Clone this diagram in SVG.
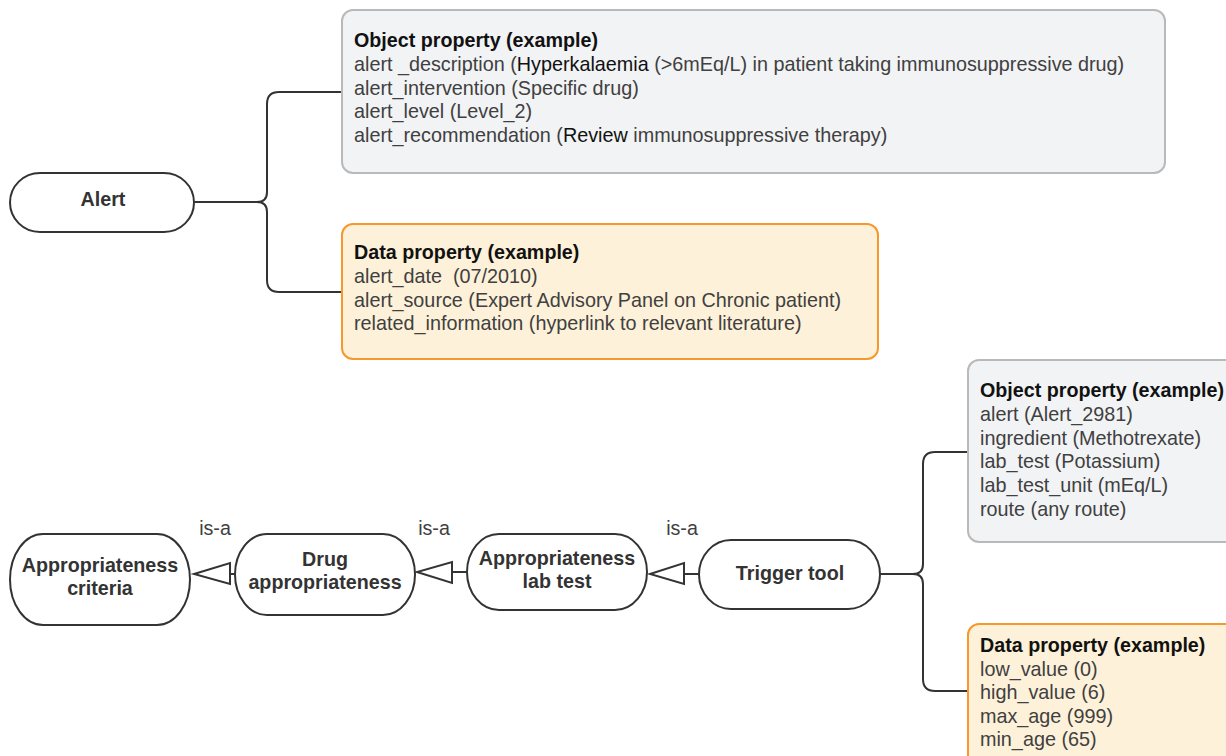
<svg xmlns="http://www.w3.org/2000/svg" width="1226" height="756" viewBox="0 0 1226 756">
  <style>
    text { font-family: "Liberation Sans", Arial, sans-serif; font-size: 19.7px; }
    .node { fill: #ffffff; stroke: #333333; stroke-width: 2; }
    .label { font-weight: bold; fill: #333333; text-anchor: middle; }
    .obj { fill: #f2f3f5; stroke: #b9b9b9; stroke-width: 2; }
    .dat { fill: #fef1d9; stroke: #f7982c; stroke-width: 2; }
    .head { font-weight: bold; fill: #111111; }
    .row { fill: #404040; font-size: 19.8px; }
    .dark { fill: #111111; }
    .wire { fill: none; stroke: #333333; stroke-width: 2; }
    .tri { fill: #ffffff; stroke: #333333; stroke-width: 2; stroke-linejoin: miter; }
    .isa { fill: #404040; text-anchor: middle; }
  </style>

  <!-- connectors: braces to property boxes and is-a generalisation arrows -->
  <g id="connectors">
    <path class="wire" d="M194,202 H257 Q267,202 267,192 V104 Q267,92 279,92 H342"/>
    <path class="wire" d="M257,202 Q267,202 267,212 V280 Q267,292 279,292 H342"/>
    <path class="wire" d="M880,574 H913 Q923,574 923,564 V464 Q923,452 935,452 H968"/>
    <path class="wire" d="M913,574 Q923,574 923,584 V679 Q923,691 935,691 H968"/>

    <path class="wire" d="M699,574 H684"/>
    <polygon class="tri" points="684,563 684,584 650,574"/>
    <path class="wire" d="M467,572 H452"/>
    <polygon class="tri" points="452,562 452,583 417,572"/>
    <path class="wire" d="M235,574 H230"/>
    <polygon class="tri" points="230,563 230,584 194,574"/>

    <text class="isa" x="215" y="535">is-a</text>
    <text class="isa" x="434" y="535">is-a</text>
    <text class="isa" x="682" y="535">is-a</text>
  </g>

  <g id="alert">
    <rect class="node" x="10" y="173" width="184" height="59" rx="30" ry="29.5"/>
    <text class="label" x="103" y="206">Alert</text>
  </g>

  <g id="alert-object-properties">
    <rect class="obj" x="342" y="10" width="823" height="163" rx="11"/>
    <text class="head" x="354" y="47">Object property (example)</text>
    <text class="row" x="354" y="71">alert _description (<tspan class="dark">Hyperkalaemia</tspan> (&gt;6mEq/L) in patient taking immunosuppressive drug)</text>
    <text class="row" x="354" y="94.5">alert_intervention (Specific drug)</text>
    <text class="row" x="354" y="118">alert_level (Level_2)</text>
    <text class="row" x="354" y="141.5">alert_recommendation (<tspan class="dark">Review</tspan> immunosuppressive therapy)</text>
  </g>

  <g id="alert-data-properties">
    <rect class="dat" x="342" y="224" width="536" height="135" rx="11"/>
    <text class="head" x="354" y="259">Data property (example)</text>
    <text class="row" x="354" y="283" xml:space="preserve">alert_date  (07/2010)</text>
    <text class="row" x="354" y="306.5">alert_source (Expert Advisory Panel on Chronic patient)</text>
    <text class="row" x="354" y="330">related_information (hyperlink to relevant literature)</text>
  </g>

  <g id="appropriateness-criteria">
    <rect class="node" x="10" y="534" width="180" height="91" rx="33" ry="45.5"/>
    <text class="label" x="100" y="572">Appropriateness</text>
    <text class="label" x="100" y="595">criteria</text>
  </g>

  <g id="drug-appropriateness">
    <rect class="node" x="235" y="534" width="180" height="81" rx="32" ry="40.5"/>
    <text class="label" x="325" y="566">Drug</text>
    <text class="label" x="325" y="589">appropriateness</text>
  </g>

  <g id="appropriateness-lab-test">
    <rect class="node" x="467" y="534" width="180" height="76" rx="32" ry="38"/>
    <text class="label" x="557" y="565">Appropriateness</text>
    <text class="label" x="557" y="588">lab test</text>
  </g>

  <g id="trigger-tool">
    <rect class="node" x="699" y="540" width="181" height="69" rx="32" ry="34.5"/>
    <text class="label" x="790" y="580">Trigger tool</text>
  </g>

  <g id="trigger-object-properties">
    <rect class="obj" x="968" y="360" width="280" height="182" rx="11"/>
    <text class="head" x="980" y="397">Object property (example)</text>
    <text class="row" x="980" y="421">alert (Alert_2981)</text>
    <text class="row" x="980" y="444.5">ingredient (Methotrexate)</text>
    <text class="row" x="980" y="468">lab_test (Potassium)</text>
    <text class="row" x="980" y="492">lab_test_unit (mEq/L)</text>
    <text class="row" x="980" y="515.5">route (any route)</text>
  </g>

  <g id="trigger-data-properties">
    <rect class="dat" x="968" y="624" width="280" height="150" rx="11"/>
    <text class="head" x="980" y="652">Data property (example)</text>
    <text class="row" x="980" y="675.5">low_value (0)</text>
    <text class="row" x="980" y="699">high_value (6)</text>
    <text class="row" x="980" y="722.5">max_age (999)</text>
    <text class="row" x="980" y="746">min_age (65)</text>
  </g>
</svg>
